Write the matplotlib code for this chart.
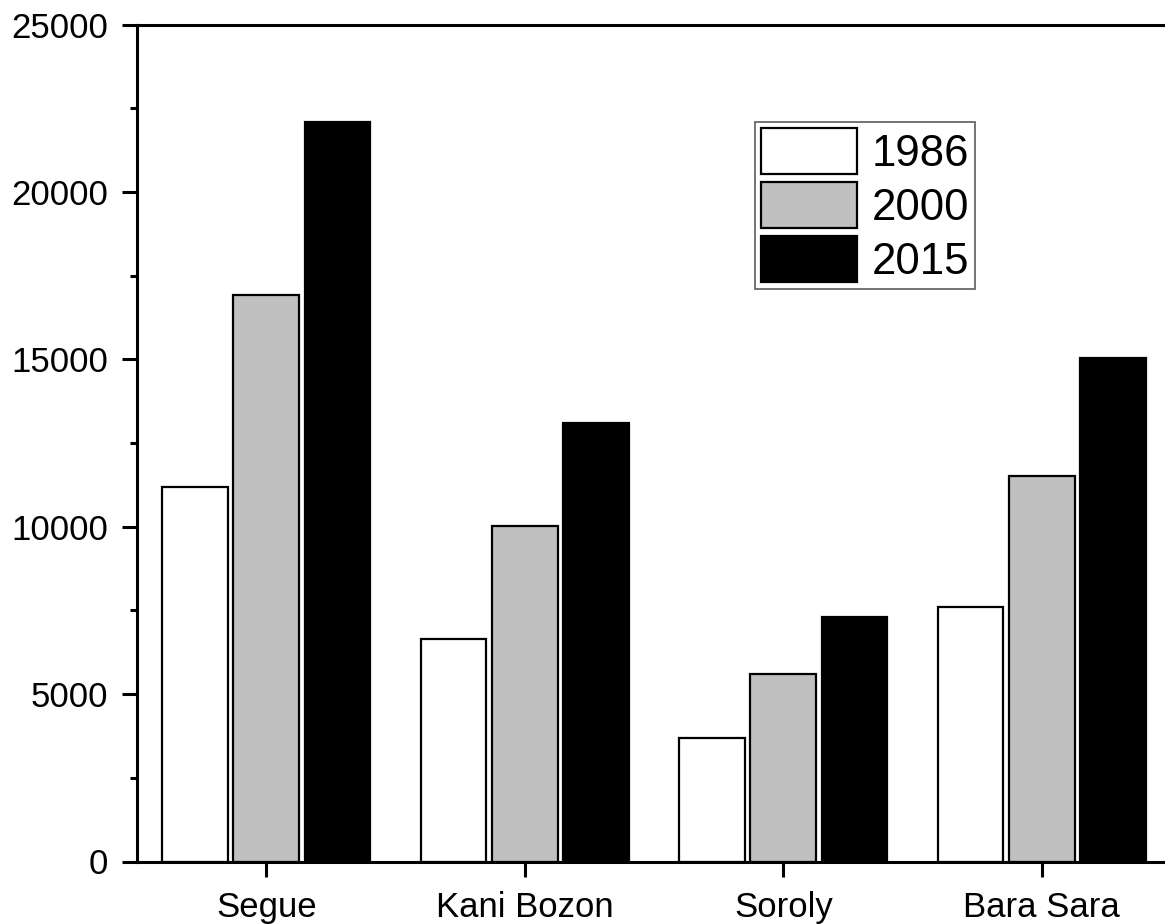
import matplotlib
matplotlib.use("Agg")
import matplotlib.pyplot as plt
from matplotlib.ticker import MultipleLocator
import numpy as np

sites = ["Segue", "Kani Bozon", "Soroly", "Bara Sara"]
years = ["1986", "2000", "2015"]
v1986 = [11180, 6650, 3680, 7610]
v2000 = [16920, 10030, 5590, 11510]
v2015 = [22090, 13090, 7310, 15050]

plt.rcParams['font.family'] = ['Liberation Sans', 'DejaVu Sans']

fig = plt.figure(figsize=(11.65, 9.24), dpi=100)
ax = fig.add_axes([137/1165, 1 - 861.5/924, (1171 - 137)/1165, (861.5 - 24.7)/924])

x = np.arange(len(sites))
step = 0.2756
width = 0.255
colors = ["white", "#c0c0c0", "black"]
for i, (vals, lab) in enumerate(zip([v1986, v2000, v2015], years)):
    ax.bar(x + (i - 1) * step, vals, width, color=colors[i], edgecolor="black",
           linewidth=1.6, label=lab, zorder=2)

ax.set_xlim(-0.5, 3.5)
ax.set_ylim(0, 25000)
ax.set_xticks(x)
ax.set_xticklabels(sites)
ax.yaxis.set_major_locator(MultipleLocator(5000))
ax.yaxis.set_minor_locator(MultipleLocator(2500))

for s in ["left", "bottom", "top"]:
    ax.spines[s].set_linewidth(2.2)
ax.spines["right"].set_visible(False)

ax.tick_params(axis="both", which="major", direction="out", length=11, width=2.2,
               labelsize=25)
ax.tick_params(axis="y", which="major", pad=10)
ax.tick_params(axis="x", which="major", pad=10)
ax.tick_params(axis="y", which="minor", direction="out", length=5, width=2.2)
ax.tick_params(axis="x", which="minor", bottom=False)

leg = ax.legend(loc="upper left", bbox_to_anchor=(755/1165, 1 - 121.7/924),
                bbox_transform=fig.transFigure, fontsize=31.5, fancybox=False,
                edgecolor="#333333", handlelength=2.2, handleheight=1.26,
                labelspacing=0.16, handletextpad=0.33, borderpad=0.14,
                borderaxespad=0)
leg.get_frame().set_linewidth(1.2)

fig.savefig("out.png", dpi=100)
